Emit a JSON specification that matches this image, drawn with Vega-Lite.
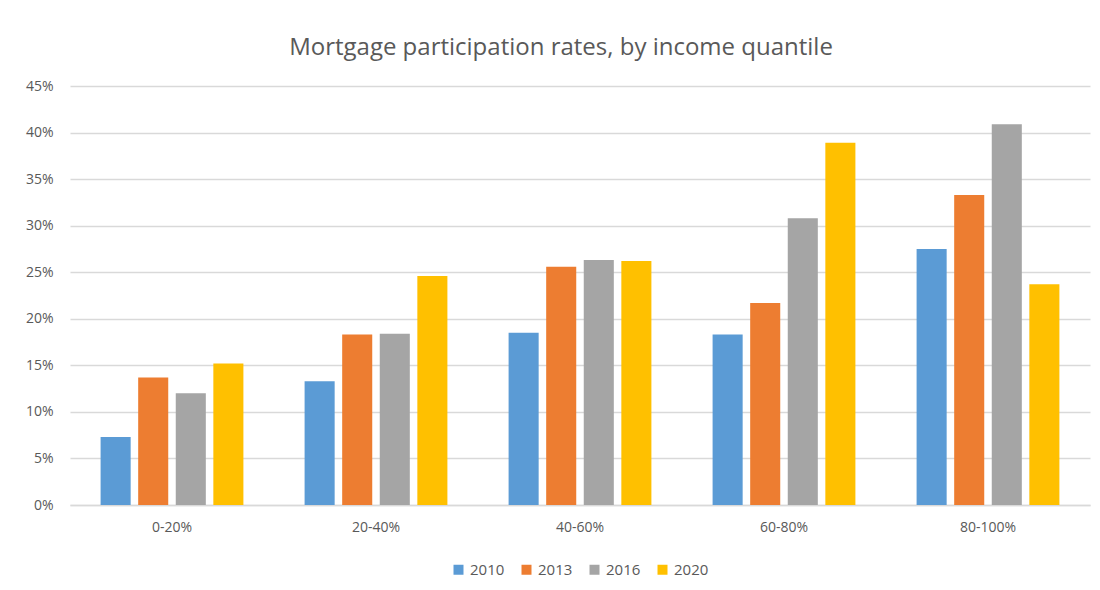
{
  "$schema": "https://vega.github.io/schema/vega-lite/v6.json",
  "width": 1020,
  "height": 419,
  "autosize": {"type": "none"},
  "padding": {"left": 70, "top": 86, "right": 10, "bottom": 85},
  "background": "white",
  "title": {
    "text": "Mortgage participation rates, by income quantile",
    "font": "Open Sans",
    "fontSize": 24,
    "fontWeight": "normal",
    "color": "#595959",
    "anchor": "middle",
    "dx": -19,
    "offset": 19
  },
  "data": {
    "values": [
      {"q": "0-20%", "year": "2010", "v": 0.073},
      {"q": "0-20%", "year": "2013", "v": 0.137},
      {"q": "0-20%", "year": "2016", "v": 0.120},
      {"q": "0-20%", "year": "2020", "v": 0.152},
      {"q": "20-40%", "year": "2010", "v": 0.133},
      {"q": "20-40%", "year": "2013", "v": 0.183},
      {"q": "20-40%", "year": "2016", "v": 0.184},
      {"q": "20-40%", "year": "2020", "v": 0.246},
      {"q": "40-60%", "year": "2010", "v": 0.185},
      {"q": "40-60%", "year": "2013", "v": 0.256},
      {"q": "40-60%", "year": "2016", "v": 0.263},
      {"q": "40-60%", "year": "2020", "v": 0.262},
      {"q": "60-80%", "year": "2010", "v": 0.183},
      {"q": "60-80%", "year": "2013", "v": 0.217},
      {"q": "60-80%", "year": "2016", "v": 0.308},
      {"q": "60-80%", "year": "2020", "v": 0.389},
      {"q": "80-100%", "year": "2010", "v": 0.275},
      {"q": "80-100%", "year": "2013", "v": 0.333},
      {"q": "80-100%", "year": "2016", "v": 0.409},
      {"q": "80-100%", "year": "2020", "v": 0.237}
    ]
  },
  "mark": {"type": "bar"},
  "encoding": {
    "x": {
      "field": "q",
      "type": "nominal",
      "sort": null,
      "scale": {"paddingInner": 0.3, "paddingOuter": 0.15},
      "axis": {
        "title": null,
        "labelAngle": 0,
        "labelFont": "Open Sans",
        "labelFontSize": 14,
        "labelColor": "#595959",
        "labelPadding": 15,
        "ticks": false,
        "domainColor": "#d9d9d9",
        "domainWidth": 1.5
      }
    },
    "xOffset": {
      "field": "year",
      "type": "nominal",
      "scale": {"paddingInner": 0.2, "paddingOuter": 0}
    },
    "y": {
      "field": "v",
      "type": "quantitative",
      "scale": {"domain": [0, 0.45], "nice": false},
      "axis": {
        "title": null,
        "format": ".0%",
        "values": [0, 0.05, 0.1, 0.15, 0.2, 0.25, 0.3, 0.35, 0.4, 0.45],
        "labelFont": "Open Sans",
        "labelFontSize": 14,
        "labelColor": "#595959",
        "labelPadding": 17,
        "ticks": false,
        "domain": false,
        "gridColor": "#d9d9d9",
        "gridWidth": 1.5
      }
    },
    "color": {
      "field": "year",
      "type": "nominal",
      "scale": {
        "domain": ["2010", "2013", "2016", "2020"],
        "range": ["#5b9bd5", "#ed7d31", "#a5a5a5", "#ffc000"]
      },
      "legend": {
        "title": null,
        "orient": "bottom",
        "direction": "horizontal",
        "symbolType": "square",
        "symbolSize": 100,
        "symbolStrokeWidth": 0,
        "labelFont": "Open Sans",
        "labelFontSize": 15,
        "labelColor": "#595959",
        "columnPadding": 14,
        "labelOffset": 4,
        "offset": 28
      }
    }
  },
  "config": {
    "view": {"stroke": null},
    "legend": {"layout": {"bottom": {"anchor": "middle"}}}
  }
}
